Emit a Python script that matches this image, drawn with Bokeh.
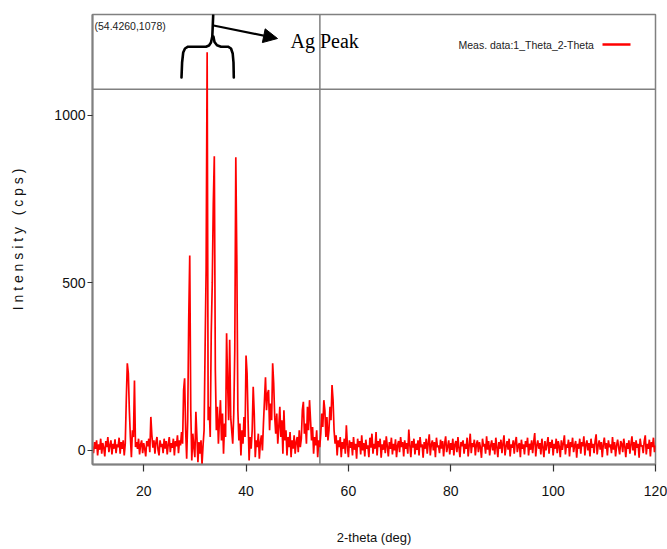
import numpy as np
from bokeh.plotting import figure
from bokeh.models import Span, Label, Arrow, NormalHead, Range1d, FixedTicker
from bokeh.embed import file_html
from bokeh.resources import INLINE

# XRD pattern, intensity (cps) every 0.2 deg from 10.0 to 120.0 deg 2-theta
intensity = [
    12, -8, 25, 5, 30, -15, 18, 2, 35, -10, 22, 8, -18, 28, 10, 40, -5, 15, 30, -12, 20, 5, 33, -8, 18,
    10, 38, -10, 25, 5, 30, -15, 20, 150, 260, 230, 120, 40, -20, 60, 40, 209, 10, 25, 5, 35, -12, 18, 30, -8,
    22, 5, -18, 28, 12, 35, -5, 100, 45, 8, 30, -10, 25, 40, 2, -15, 30, 10, 20, -8, 35, 5, 28, -12, 18,
    40, -5, 22, 8, 35, -15, 28, 12, 45, -8, 30, 15, 55, 20, 180, 215, 60, -25, 90, 390, 582, 120, -30, 50, 10,
    -20, 115, 40, -35, 25, -10, 30, -42, 15, 60, 305, 540, 1188, 90, 130, 40, 350, 500, 735, 878, 240, 60, 130, 20, 90,
    150, 30, 110, -10, 80, 40, 350, 200, 90, 330, 100, 60, 20, 110, 300, 875, 567, 120, 30, 80, -15, 60, 20, 100, 40,
    283, 230, 90, -30, 40, 5, 60, 190, 110, -20, 30, 10, 50, -25, 25, 45, 0, 80, 150, 218, 120, 170, 180, 60, 140,
    90, 260, 200, 100, 50, 110, 20, 70, 130, 40, 90, -10, 120, 30, 60, -15, 40, 10, 55, -20, 30, 5, 45, -10, 25,
    40, -5, 60, 10, 35, 120, 145, 50, 80, 20, 130, 60, 150, 90, 30, 70, -10, 40, 15, 60, -20, 30, 10, 50, 110,
    70, 150, 120, 40, 100, 30, 60, 130, 90, 195, 150, 60, 20, 45, -15, 30, 10, 40, -20, 25, 5, 35, -10, 75, 15,
    -20, 30, 8, 25, -15, 40, 2, 20, -25, 35, 10, 28, -12, 45, 0, 22, -18, 32, 5, 15, -20, 38, 8, 50, -10,
    20, 5, 55, -15, 28, 10, 35, -22, 18, 2, 30, -8, 42, 12, -18, 25, 5, 38, -12, 20, 0, 33, -20, 15, 28,
    -5, 40, 10, 25, -18, 30, 5, 22, -10, 62, 15, -20, 28, 8, 35, -12, 20, 2, 30, -15, 40, 10, 18, -22, 25,
    5, 35, -10, 22, 48, -15, 18, 30, 0, 25, -20, 38, 10, 15, -8, 32, 5, 28, -18, 20, 42, -5, 12, 30, -12,
    22, 2, 35, -15, 18, 28, -5, 40, 8, -20, 25, 12, 30, -10, 20, 5, 38, -18, 15, 50, -8, 22, 10, 32, -15,
    18, 30, -5, 25, 8, -22, 35, 12, 20, -10, 42, 2, 28, -15, 15, 30, 0, 22, -12, 38, 10, -20, 25, 5, 32,
    -8, 20, 45, -15, 12, 28, 2, 35, -18, 18, 8, 30, -10, 25, 40, -5, 15, 22, -20, 32, 5, 18, -12, 28, 10,
    38, -15, 20, 2, 30, -8, 25, 52, -18, 15, 30, 5, 22, -12, 35, 10, -20, 28, 0, 18, 40, -10, 25, 8, 32,
    -15, 20, 5, 35, -8, 28, 12, -20, 30, 2, 22, 45, -12, 18, 8, 32, -18, 25, 10, 38, -5, 15, 28, -22, 20,
    5, 35, -10, 25, 12, 42, -15, 18, 30, 0, 22, -18, 35, 8, 20, -8, 28, 48, -12, 15, 30, 2, 25, -20, 18,
    38, 5, 22, -15, 30, 10, 18, -8, 40, 2, 25, -18, 15, 32, 8, -12, 28, 20, -5, 35, 12, -20, 22, 5, 30,
    -10, 18, 42, 0, 25, -15, 30, 8, 20, -22, 35, 12, 15, -8, 28, 45, -12, 20, 5, 32, -18, 25, 10, 38, -5,
    15,
]
two_theta = np.round(np.linspace(10.0, 120.0, len(intensity)), 1)

x_ticks = [20, 40, 60, 80, 100, 120]
y_ticks = [0, 500, 1000]
cursor_x = 54.4260
cursor_y = 1078
cursor_text = "(54.4260,1078)"
series_name = "Meas. data:1_Theta_2-Theta"
note_text = "Ag Peak"
y_title = "I n t e n s i t y \u00a0\u00a0( c p s )"
x_title = "2-theta (deg)"

X_START, X_END = 10, 120
Y_START, Y_END = -42, 1301

W, H = 667, 549
BL, BT = 92, 14
FW, FH = 563, 450
BR = W - BL - FW
BB = H - BT - FH

SANS = "Liberation Sans"
GRAY = "#808080"


def px2x(px):
    return X_START + (px - BL) / FW * (X_END - X_START)


def py2y(py):
    return Y_END - (py - BT) / FH * (Y_END - Y_START)


p = figure(width=W, height=H, x_range=Range1d(X_START, X_END), y_range=Range1d(Y_START, Y_END),
           output_backend="svg", toolbar_location=None,
           min_border_left=BL, min_border_right=BR, min_border_top=BT, min_border_bottom=BB)
p.xgrid.visible = False
p.ygrid.visible = False
p.outline_line_color = GRAY
p.outline_line_width = 1.5
p.background_fill_color = "white"
p.border_fill_color = "white"

p.xaxis.ticker = FixedTicker(ticks=x_ticks)
p.yaxis.ticker = FixedTicker(ticks=y_ticks)
for ax in (p.xaxis, p.yaxis):
    ax.axis_line_color = GRAY
    ax.axis_line_width = 2
    ax.major_tick_line_color = "#333333"
    ax.major_tick_line_width = 1.2
    ax.minor_tick_line_color = None
    ax.major_tick_in = 0
    ax.major_label_text_font = SANS
    ax.major_label_text_font_size = "14px"
    ax.major_label_text_color = "#111111"
    ax.axis_label_text_font = SANS
    ax.axis_label_text_font_style = "normal"
    ax.axis_label_text_color = "#111111"
p.xaxis.major_tick_out = 7
p.yaxis.major_tick_out = 5
p.xaxis.major_label_standoff = 14
p.yaxis.major_label_standoff = 2
p.xaxis.axis_label = x_title
p.xaxis.axis_label_text_font_size = "13px"
p.xaxis.axis_label_standoff = 31
p.yaxis.axis_label = y_title
p.yaxis.axis_label_text_font_size = "14px"
p.yaxis.axis_label_standoff = 25

# cursor cross-hair
p.add_layout(Span(location=cursor_x, dimension="height", line_color=GRAY, line_width=1.5, level="underlay"))
p.add_layout(Span(location=cursor_y, dimension="width", line_color=GRAY, line_width=1.5, level="underlay"))

# measured pattern
p.line(two_theta, intensity, line_color="#ff0000", line_width=1.7)

# cursor readout
p.add_layout(Label(x=px2x(94), y=py2y(19), text=cursor_text, text_font=SANS, text_font_size="10.5px",
                   text_color="#222222", text_baseline="top", text_align="left"))

# legend (text followed by line sample)
p.add_layout(Label(x=px2x(458), y=py2y(44), text=series_name, text_font=SANS, text_font_size="10.5px",
                   text_color="#222222", text_baseline="middle", text_align="left"))
p.line([px2x(602), px2x(630)], [py2y(44), py2y(44)], line_color="#ff0000", line_width=2.5)

# brace marking the Ag peak region
brace_left = [(181, 77), (181.6, 62), (182.7, 52), (184.5, 48), (187.5, 46.2), (205.5, 46.2),
              (208.5, 45), (210.5, 42), (211.8, 36), (212.7, 14.5)]
brace_right = [(212.9, 36), (214, 41.5), (216.5, 44.8), (220.5, 46.2), (227.5, 46.2),
               (230.5, 48), (232.2, 53), (233, 62), (233.3, 77)]
for pts in (brace_left, brace_right):
    p.line([px2x(a) for a, b in pts], [py2y(b) for a, b in pts], line_color="black", line_width=2.6,
           line_cap="round", line_join="round")

p.add_layout(Arrow(end=NormalHead(size=14, fill_color="black", line_color="black"),
                   x_start=px2x(213), y_start=py2y(25), x_end=px2x(277), y_end=py2y(38),
                   line_color="black", line_width=2.2))

p.add_layout(Label(x=px2x(290), y=py2y(40), text=note_text, text_font="Liberation Serif",
                   text_font_size="20px", text_color="black", text_baseline="alphabetic"))

open("out.html", "w").write(file_html(p, INLINE))
